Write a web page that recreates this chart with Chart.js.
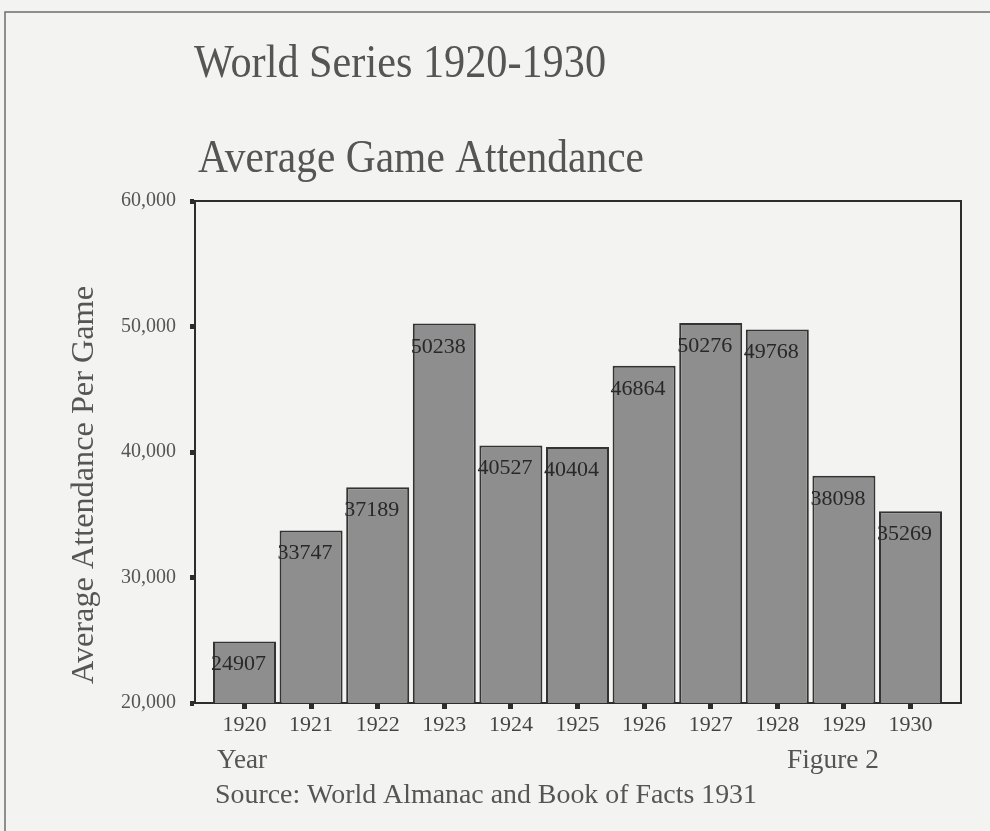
<!DOCTYPE html>
<html lang="en">
<head>
<meta charset="utf-8">
<title>World Series 1920-1930 — Average Game Attendance</title>
<script src="https://cdn.jsdelivr.net/npm/chart.js@4.4.1/dist/chart.umd.min.js"></script>
<style>
    html, body { margin: 0; padding: 0; background: #f3f3f2; }
    #ws-wrap { width: 990px; height: 831px; }
</style>
</head>
<body>
<div id="ws-wrap"><canvas id="ws-chart" width="990" height="831"></canvas></div>
<script>
/* World Series attendance — Chart.js */
/* global Chart */

// =========================================================
// Data
// =========================================================
var years      = ['1920', '1921', '1922', '1923', '1924', '1925', '1926', '1927', '1928', '1929', '1930'];
var attendance = [24907, 33747, 37189, 50238, 40527, 40404, 46864, 50276, 49768, 38098, 35269];
var yTicks     = [20000, 30000, 40000, 50000, 60000];

var titleText    = 'World Series 1920-1930';
var subtitleText = 'Average Game Attendance';
var yTitleText   = 'Average Attendance Per Game';
var xTitleText   = 'Year';
var figureText   = 'Figure 2';
var sourceText   = 'Source: World Almanac and Book of Facts 1931';

(function () {
    'use strict';

    var SERIF = '"Liberation Serif", "Times New Roman", serif';
    var INK   = '#2d2d2d';
    var GREY  = '#555555';

    // draw a line of text squeezed/stretched to a given width
    function fitText(ctx, text, x, y, size, width, color, rotate) {
        ctx.save();
        ctx.font = size + 'px ' + SERIF;
        var w = ctx.measureText(text).width;
        ctx.translate(x, y);
        if (rotate) ctx.rotate(-Math.PI / 2);
        ctx.scale(width / w, 1);
        ctx.fillStyle = color;
        ctx.textAlign = 'left';
        ctx.textBaseline = 'alphabetic';
        ctx.fillText(text, 0, 0);
        ctx.restore();
    }

    // =========================================================
    // Plugins — page frame, plot box, value labels, captions
    // =========================================================
    var pageFrame = {
        id: 'pageFrame',
        beforeDraw: function (chart) {
            var ctx = chart.ctx;
            ctx.save();
            ctx.fillStyle = '#f3f3f2';
            ctx.fillRect(0, 0, chart.width, chart.height);
            ctx.strokeStyle = '#6e6e6e';
            ctx.lineWidth = 1.5;
            ctx.beginPath();
            ctx.moveTo(5, chart.height);
            ctx.lineTo(5, 12);
            ctx.lineTo(chart.width, 12);
            ctx.stroke();
            ctx.restore();
        },
        afterDraw: function (chart) {
            var a = chart.chartArea;
            var ctx = chart.ctx;
            ctx.save();
            ctx.strokeStyle = INK;
            ctx.lineWidth = 2;
            ctx.beginPath();
            ctx.moveTo(a.left, a.top);
            ctx.lineTo(a.right, a.top);
            ctx.lineTo(a.right, a.bottom);
            ctx.stroke();
            ctx.restore();

            fitText(ctx, titleText, 194, 77, 46, 412, GREY);
            fitText(ctx, subtitleText, 198, 172, 46, 446, GREY);
            fitText(ctx, yTitleText, 93, 684, 32, 398, GREY, true);
            fitText(ctx, xTitleText, 217, 768, 27, 50, GREY);
            fitText(ctx, figureText, 787, 768, 27, 92, GREY);
            fitText(ctx, sourceText, 215, 803, 28, 542, GREY);
        }
    };

    var barLabels = {
        id: 'barLabels',
        afterDatasetsDraw: function (chart) {
            var ctx = chart.ctx;
            var meta = chart.getDatasetMeta(0);
            ctx.save();
            ctx.font = '22px ' + SERIF;
            ctx.fillStyle = '#282828';
            ctx.textAlign = 'left';
            ctx.textBaseline = 'alphabetic';
            meta.data.forEach(function (bar, i) {
                var left = bar.x - bar.width / 2;
                ctx.fillText(String(attendance[i]), left - 2, bar.y + 29);
            });
            ctx.restore();
        }
    };

    // =========================================================
    // Chart
    // =========================================================
    function initChart() {
        var el = document.getElementById('ws-chart');
        if (!el || typeof Chart === 'undefined') return;

        var points = attendance.map(function (v, i) {
            return { x: i, y: v };
        });

        new Chart(el, {
            type: 'bar',
            data: {
                datasets: [{
                    data:               points,
                    backgroundColor:    '#8e8e8e',
                    borderColor:        '#333333',
                    borderWidth:        2,
                    borderSkipped:      false,
                    categoryPercentage: 1,
                    barPercentage:      0.946,
                }],
            },
            options: {
                responsive: false,
                animation: false,
                devicePixelRatio: 1,
                layout: { padding: { top: 201, right: 29, left: 0, bottom: 0 } },
                plugins: {
                    legend:  { display: false },
                    tooltip: { enabled: false },
                },
                scales: {
                    x: {
                        type: 'linear',
                        offset: false,
                        min: -0.743,
                        max: 10.758,
                        afterBuildTicks: function (s) {
                            s.ticks = years.map(function (_, i) { return { value: i }; });
                        },
                        afterFit: function (s) { s.height = 128; },
                        ticks: {
                            font: { family: SERIF, size: 22 },
                            color: '#444',
                            padding: 3,
                            maxRotation: 0,
                            autoSkip: false,
                            callback: function (v) { return years[v]; },
                        },
                        grid: {
                            offset: false,
                            drawOnChartArea: false,
                            drawTicks: true,
                            tickLength: 6,
                            tickWidth: 5,
                            tickColor: INK,
                        },
                        border: { color: INK, width: 2 },
                    },
                    y: {
                        min: yTicks[0],
                        max: yTicks[yTicks.length - 1],
                        afterBuildTicks: function (s) {
                            s.ticks = yTicks.map(function (v) { return { value: v }; });
                        },
                        afterFit: function (s) { s.width = 195; },
                        ticks: {
                            font: { family: SERIF, size: 20 },
                            color: '#555',
                            padding: 14,
                            callback: function (v) { return v.toLocaleString('en-US'); },
                        },
                        grid: {
                            drawOnChartArea: false,
                            drawTicks: true,
                            tickLength: 5,
                            tickWidth: 5,
                            tickColor: INK,
                        },
                        border: { color: INK, width: 2 },
                    },
                },
            },
            plugins: [pageFrame, barLabels],
        });
    }

    initChart();
}());
</script>
</body>
</html>
